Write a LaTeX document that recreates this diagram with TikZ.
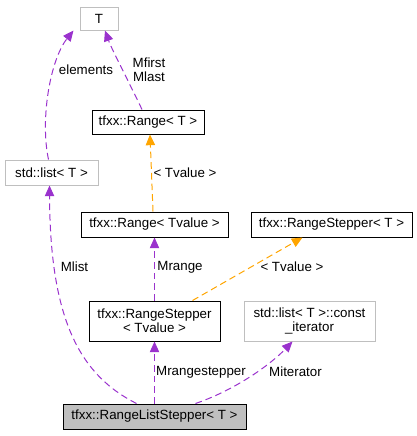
\documentclass[tikz,border=0pt]{standalone}
\usepackage{fontspec}
\setmainfont{Liberation Sans}
\usetikzlibrary{arrows.meta,calc}
\definecolor{dxpurple}{HTML}{9A32CD}
\definecolor{dxorange}{HTML}{FFA500}
\definecolor{dxgray}{HTML}{BFBFBF}
\begin{document}
\begin{tikzpicture}[x=0.75pt,y=-0.75pt,
  font=\fontsize{10}{10.5}\selectfont,
  box/.style={draw=black,line width=0.75pt,inner sep=0pt,align=center,fill=white},
  gbox/.style={box,draw=dxgray},
  mbox/.style={box,fill=dxgray},
  rel/.style={draw=dxpurple,line width=0.75pt,dash pattern=on 5pt off 3pt,
    -{Triangle[length=8pt,width=7pt,fill=dxpurple]}},
  tpl/.style={draw=dxorange,line width=0.75pt,dash pattern=on 5pt off 3pt,
    -{Triangle[length=8pt,width=7pt,fill=dxorange]}},
  lbl/.style={inner sep=0pt,align=center}]
\useasboundingbox (0,0) rectangle (417,436);
% nodes
\node[gbox,minimum width=28.5pt,minimum height=17.25pt] (T) at (99,18.5) {T};
\node[gbox,minimum width=69.75pt,minimum height=18.75pt] (listT) at (51.5,172.5) {std::list< T >};
\node[box,minimum width=84pt,minimum height=18pt] (rangeT) at (148,122) {tfxx::Range< T >};
\node[box,minimum width=110.25pt,minimum height=18.75pt] (rangeTv) at (154.5,224.5) {tfxx::Range< Tvalue >};
\node[box,minimum width=120.75pt,minimum height=18.75pt] (stepT) at (331.5,224.5) {tfxx::RangeStepper< T >};
\node[box,minimum width=98.25pt,minimum height=30pt] (stepTv) at (154.5,321) {tfxx::RangeStepper\\< Tvalue >};
\node[gbox,minimum width=98.25pt,minimum height=30pt] (iter) at (309.5,321) {std::list< T >::const\\\_iterator};
\node[mbox,minimum width=137.25pt,minimum height=18.75pt] (main) at (154.5,416.5) {tfxx::RangeListStepper< T >};
% edges
\draw[rel] ($(listT.north west)+(44,0)$) .. controls (40,120) and (50,60) .. ($(T.south west)+(-6,0)$);
\draw[rel] ($(rangeT.north)+(-6,0)$) .. controls (128,80) and (112,50) .. ($(T.south)+(6,0)$);
\draw[tpl] ($(rangeTv.north)+(-1.5,0)$) -- ($(rangeT.south)+(2,0)$);
\draw[rel] (stepTv.north) -- (rangeTv.south);
\draw[tpl] ($(stepTv.north west)+(104,0)$) -- ($(stepT.south west)+(52,0)$);
\draw[rel] ($(main.north west)+(74,0)$) .. controls (80,375) and (50,320) .. ($(listT.south west)+(45,0)$);
\draw[rel] (main.north) -- (stepTv.south);
\draw[rel] ($(main.north west)+(133,0)$) .. controls (235,390) and (270,365) .. ($(iter.south west)+(49,0)$);
% labels
\node[lbl] (l1) at (86,70) {elements};
\node[lbl] (l2) at (149,70) {Mfirst\\Mlast};
\node[lbl] (l3) at (185,173) {< Tvalue >};
\node[lbl] (l4) at (180,267) {Mrange};
\node[lbl] (l5) at (292,267) {< Tvalue >};
\node[lbl] (l6) at (74.5,267) {Mlist};
\node[lbl] (l7) at (201,372) {Mrangestepper};
\node[lbl] (l8) at (295.5,372) {Miterator};
\end{tikzpicture}
\end{document}
